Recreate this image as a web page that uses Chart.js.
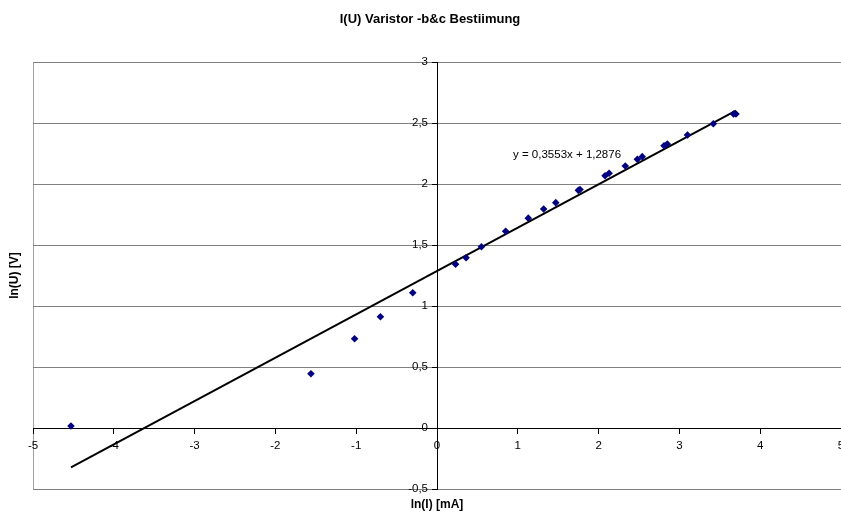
<!DOCTYPE html>
<html>
<head>
<meta charset="utf-8">
<title>I(U) Varistor</title>
<script src="https://cdn.jsdelivr.net/npm/chart.js@4/dist/chart.umd.min.js"></script>
<style>
    body { margin: 0; background: #fff; }
    #wrap { width: 841px; height: 518px; position: relative; }
</style>
</head>
<body>
<div id="wrap"><canvas id="varistorChart"></canvas></div>
<script>
// Messwerte: ln(I) [mA] und ln(U) [V]
const lnI = [-4.53, -1.56, -1.02, -0.70, -0.30, 0.23, 0.36, 0.55, 0.85, 1.13,
             1.32, 1.47, 1.75, 1.77, 2.08, 2.13, 2.33, 2.48, 2.54, 2.81,
             2.85, 3.10, 3.42, 3.67, 3.70];
const lnU = [0.016, 0.445, 0.732, 0.912, 1.109, 1.342, 1.396, 1.486, 1.612, 1.720,
             1.795, 1.847, 1.948, 1.955, 2.068, 2.088, 2.148, 2.202, 2.224, 2.314,
             2.328, 2.402, 2.494, 2.574, 2.574];

// Trendlinie (aus Excel)
const slope = 0.3553;
const intercept = 1.2876;
const equationText = 'y = 0,3553x + 1,2876';

const chartTitle = 'I(U) Varistor -b&c Bestiimung';
const xTitle = 'ln(I) [mA]';
const yTitle = 'ln(U) [V]';

const FONT = 'Arial, "Liberation Sans", sans-serif';

// Helper functions
function commaFormat(v) {
    return String(v).replace('.', ',');
}

function trendPoints() {
    const xMin = Math.min(...lnI);
    const xMax = Math.max(...lnI);
    return [xMin, xMax].map(x => ({ x: x, y: slope * x + intercept }));
}

// Rahmen, Titel, Achsentitel und y-Beschriftung
const decorations = {
    id: 'decorations',
    beforeDraw(chart) {
        const { ctx, chartArea } = chart;
        ctx.save();
        ctx.strokeStyle = '#a0a0a0';
        ctx.lineWidth = 1;
        ctx.strokeRect(chartArea.left + 0.5, chartArea.top + 0.5, chartArea.right - chartArea.left + 10, chartArea.bottom - chartArea.top);
        ctx.restore();
    },
    afterDraw(chart) {
        const { ctx, chartArea } = chart;
        const xs = chart.scales.x;
        const ys = chart.scales.y;

        // y-Achsenbeschriftung links neben der Achse bei x = 0
        ctx.save();
        ctx.font = '11.5px ' + FONT;
        ctx.fillStyle = '#000';
        ctx.textAlign = 'right';
        ctx.textBaseline = 'middle';
        const x0 = xs.getPixelForValue(0);
        ys.ticks.forEach(t => {
            ctx.fillText(commaFormat(t.value), x0 - 9, ys.getPixelForValue(t.value));
        });
        ctx.restore();

        ctx.save();
        ctx.fillStyle = '#000';
        ctx.textAlign = 'center';
        ctx.textBaseline = 'middle';

        ctx.font = 'bold 13px ' + FONT;
        ctx.fillText(chartTitle, 430, 19);

        ctx.font = 'bold 12px ' + FONT;
        ctx.fillText(xTitle, (chartArea.left + chartArea.right) / 2, 505);

        ctx.translate(15, (chartArea.top + chartArea.bottom) / 2);
        ctx.rotate(-Math.PI / 2);
        ctx.fillText(yTitle, 0, 0);
        ctx.restore();

        ctx.save();
        ctx.font = '11.5px ' + FONT;
        ctx.fillStyle = '#000';
        ctx.textAlign = 'left';
        ctx.textBaseline = 'alphabetic';
        ctx.fillText(equationText, 513, 158);
        ctx.restore();
    }
};

document.addEventListener('DOMContentLoaded', function() {
    const ctx = document.getElementById('varistorChart').getContext('2d');
    new Chart(ctx, {
        type: 'scatter',
        data: {
            datasets: [{
                label: 'Messwerte',
                data: lnI.map((x, i) => ({ x: x, y: lnU[i] })),
                pointStyle: 'rectRot',
                pointRadius: 3.8,
                backgroundColor: '#000080',
                borderColor: '#000080',
                borderWidth: 0
            }, {
                label: 'Linear',
                data: trendPoints(),
                showLine: true,
                pointRadius: 0,
                borderColor: '#000',
                borderWidth: 2
            }]
        },
        options: {
            responsive: true,
            maintainAspectRatio: false,
            animation: false,
            layout: { autoPadding: false, padding: { left: 33, top: 62, right: 0, bottom: 29 } },
            plugins: {
                legend: { display: false },
                title: { display: false },
                tooltip: { enabled: false }
            },
            scales: {
                x: {
                    type: 'linear',
                    position: { y: 0 },
                    min: -5,
                    max: 5,
                    afterFit(scale) { scale.paddingLeft = 0; scale.paddingRight = 0; },
                    ticks: {
                        stepSize: 1,
                        padding: 6,
                        color: '#000',
                        font: { family: FONT, size: 11.5 },
                        maxRotation: 0,
                        callback: commaFormat
                    },
                    grid: { drawOnChartArea: false, tickLength: 5, color: '#000' },
                    border: { color: '#000', width: 1 }
                },
                y: {
                    type: 'linear',
                    position: { x: 0 },
                    min: -0.5,
                    max: 3,
                    afterFit(scale) { scale.paddingTop = 0; scale.paddingBottom = 0; },
                    ticks: {
                        stepSize: 0.5,
                        display: false
                    },
                    grid: { color: '#808080', tickColor: '#000', tickLength: 5 },
                    border: { color: '#000', width: 1 }
                }
            }
        },
        plugins: [decorations]
    });
});
</script>
</body>
</html>
